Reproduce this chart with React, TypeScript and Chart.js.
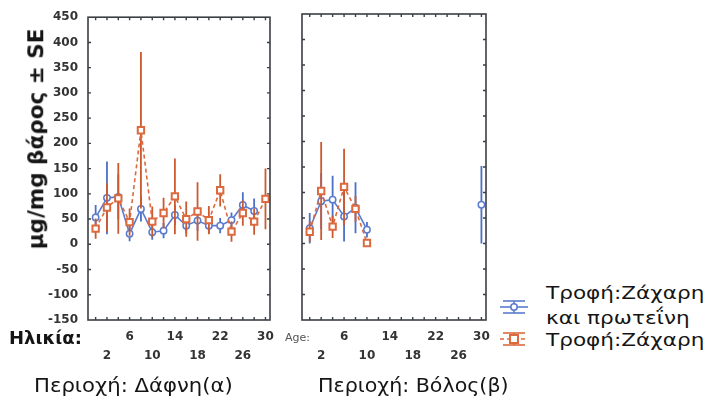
import { useEffect, useRef } from 'react';
import { Chart, registerables } from 'chart.js';
Chart.register(...registerables);

// ---------- data ----------
const ages = [0, 2, 4, 6, 8, 10, 12, 14, 16, 18, 20, 22, 24, 26, 28, 30];
const xTickValues = [2, 6, 10, 14, 18, 22, 26, 30];
const xTickLowerRow = [2, 10, 18, 26];
const yMin = -150;
const yMax = 450;
const yStep = 50;

const seriesSugarProtein = 'Τροφή:Ζάχαρη και πρωτεΐνη';
const seriesSugar = 'Τροφή:Ζάχαρη';

// Περιοχή: Δάφνη(α)
const dafniSugarProtein = [53, 92, 94, 21, 70, 24, 27, 58, 37, 47, 37, 37, 48, 78, 66, null];
const dafniSugarProteinSE = [25, 72, 45, 15, 25, 15, 15, 20, 15, 20, 15, 15, 15, 25, 25, null];
const dafniSugar = [31, 73, 91, 44, 226, 45, 62, 95, 50, 65, 48, 107, 25, 62, 45, 90];
const dafniSugarSE = [20, 48, 70, 27, 155, 30, 30, 75, 35, 58, 28, 32, 20, 25, 26, 60];

// Περιοχή: Βόλος(β)
const volosSugarProtein = [30, 83, 86, 53, 70, 27, null, null, null, null, null, null, null, null, null, 76];
const volosSugarProteinSE = [30, 55, 47, 49, 50, 15, null, null, null, null, null, null, null, null, null, 76];
const volosSugar = [23, 103, 33, 111, 68, 1, null, null, null, null, null, null, null, null, null, null];
const volosSugarSE = [20, 96, 22, 75, 25, 0, null, null, null, null, null, null, null, null, null, null];

// ---------- style ----------
const FONT = "'DejaVu Sans', 'Liberation Sans', sans-serif";
const BLUE = '#5a7ccf';
const BLUE_BAR = '#4d6fc6';
const ORANGE = '#dc6a3e';
const ORANGE_BAR = '#cc5a30';
const FRAME = '#3a3f44';
const X_MIN = -1.35;
const X_MAX = 30.8;
const H = 407;
const PLOT_TOP = 14;
const PLOT_BOTTOM = 320;

const panelPlugin = {
  id: 'panelDeco',
  beforeDatasetDraw(chart: any, args: any) {
    const ds = chart.data.datasets[args.index];
    const errs = ds.errors;
    if (!errs) return;
    const xs = chart.scales.x;
    const ys = chart.scales.y;
    const ctx = chart.ctx;
    ctx.save();
    ctx.beginPath();
    ctx.rect(chart.chartArea.left, chart.chartArea.top, chart.chartArea.width, chart.chartArea.height);
    ctx.clip();
    ctx.strokeStyle = ds.errorColor;
    ctx.lineWidth = 1.8;
    ctx.beginPath();
    ds.data.forEach((p: any, i: number) => {
      if (p.y == null || errs[i] == null) return;
      const px = xs.getPixelForValue(p.x);
      ctx.moveTo(px, ys.getPixelForValue(p.y - errs[i]));
      ctx.lineTo(px, ys.getPixelForValue(p.y + errs[i]));
    });
    ctx.stroke();
    ctx.restore();
  },
  afterDraw(chart: any) {
    const { left, right, top, bottom } = chart.chartArea;
    const xs = chart.scales.x;
    const ys = chart.scales.y;
    const ctx = chart.ctx;
    ctx.save();
    ctx.strokeStyle = FRAME;
    ctx.lineWidth = 1.6;
    ctx.strokeRect(left, top, right - left, bottom - top);
    ctx.lineWidth = 1.4;
    ctx.beginPath();
    for (let a = 0; a <= 30; a += 2) {
      const px = xs.getPixelForValue(a);
      ctx.moveTo(px, top);
      ctx.lineTo(px, top + 3);
      ctx.moveTo(px, bottom);
      ctx.lineTo(px, bottom - 3);
    }
    for (let v = yMin + yStep; v < yMax; v += yStep) {
      const py = ys.getPixelForValue(v);
      ctx.moveTo(left, py);
      ctx.lineTo(left + 3, py);
      ctx.moveTo(right, py);
      ctx.lineTo(right - 3, py);
    }
    ctx.stroke();
    ctx.restore();
  },
};

const toPoints = (vals: (number | null)[]) => ages.map((a, i) => ({ x: a, y: vals[i] }));

function makeConfig(p: any): any {
  return {
    type: 'line',
    data: {
      datasets: [
        {
          label: seriesSugar,
          data: toPoints(p.sugar),
          errors: p.sugarSE,
          errorColor: ORANGE_BAR,
          borderColor: ORANGE,
          borderWidth: 1.6,
          borderDash: [4, 3],
          pointStyle: 'rect',
          pointRadius: 4.5,
          pointBorderWidth: 2,
          pointBackgroundColor: '#ffffff',
          pointBorderColor: ORANGE,
          spanGaps: false,
        },
        {
          label: seriesSugarProtein,
          data: toPoints(p.sugarProtein),
          errors: p.sugarProteinSE,
          errorColor: BLUE_BAR,
          borderColor: BLUE,
          borderWidth: 1.6,
          pointStyle: 'circle',
          pointRadius: 3.2,
          pointBorderWidth: 1.5,
          pointBackgroundColor: '#ffffff',
          pointBorderColor: BLUE,
          spanGaps: false,
        },
      ],
    },
    options: {
      responsive: false,
      animation: false,
      layout: { padding: p.padding },
      plugins: { legend: { display: false }, tooltip: { enabled: false } },
      scales: {
        x: {
          type: 'linear',
          min: X_MIN,
          max: X_MAX,
          grid: { display: false, drawTicks: false },
          border: { display: false },
          afterBuildTicks: (axis: any) => {
            axis.ticks = xTickValues.map((v) => ({ value: v }));
          },
          afterFit: (axis: any) => {
            axis.height = H - PLOT_BOTTOM;
          },
          ticks: {
            autoSkip: false,
            maxRotation: 0,
            padding: 7,
            color: '#333',
            font: { family: FONT, size: 12, weight: 'bold', lineHeight: 1.58 },
            callback: (v: any) => (xTickLowerRow.includes(v) ? ['', String(v)] : String(v)),
          },
        },
        y: {
          min: yMin,
          max: yMax,
          grid: { display: false, drawTicks: false },
          border: { display: false },
          afterFit: (axis: any) => {
            axis.width = p.yAxisWidth;
          },
          ticks: {
            display: p.showY,
            stepSize: yStep,
            padding: 10,
            color: '#333',
            font: { family: FONT, size: 12, weight: 'bold' },
          },
        },
      },
    },
    plugins: [panelPlugin],
  };
}

function Panel(props: any) {
  const ref = useRef<HTMLCanvasElement>(null);
  useEffect(() => {
    const chart = new Chart(ref.current as HTMLCanvasElement, makeConfig(props));
    return () => chart.destroy();
  }, []);
  return (
    <canvas
      ref={ref}
      width={props.width}
      height={H}
      style={{ position: 'absolute', left: props.left, top: 0, width: props.width, height: H }}
    />
  );
}

function Txt(props: any) {
  return (
    <div
      style={{
        position: 'absolute',
        left: props.x,
        top: props.y,
        transform: `translateY(-50%) scaleX(${props.sx || 1})`,
        transformOrigin: 'left center',
        whiteSpace: 'nowrap',
        fontFamily: FONT,
        fontSize: props.size,
        fontWeight: props.bold ? 'bold' : 'normal',
        color: props.color || '#151515',
        lineHeight: 1,
      }}
    >
      {props.children}
    </div>
  );
}

function LegendSymbol(props: any) {
  const { cx, cy, color, square, dashed } = props;
  return (
    <g stroke={color} strokeWidth={1.6} fill="none">
      <line x1={cx - 11} y1={cy - 6} x2={cx + 11} y2={cy - 6} />
      <line x1={cx - 11} y1={cy + 6} x2={cx + 11} y2={cy + 6} />
      <line x1={cx} y1={cy - 6} x2={cx} y2={cy + 6} />
      <line x1={cx - 14} y1={cy} x2={cx + 14} y2={cy} strokeDasharray={dashed ? '4 3' : undefined} />
      {square ? (
        <rect x={cx - 4} y={cy - 4} width={8} height={8} fill="#fff" strokeWidth={2} />
      ) : (
        <circle cx={cx} cy={cy} r={3.2} fill="#fff" />
      )}
    </g>
  );
}

export default function App() {
  return (
    <div style={{ position: 'absolute', left: 0, top: 0, width: 713, height: H, background: '#fff', overflow: 'hidden' }}>
      <Panel
        left={0}
        width={290}
        showY={true}
        yAxisWidth={88}
        padding={{ left: 0, top: PLOT_TOP, right: 20, bottom: 0 }}
        sugar={dafniSugar}
        sugarSE={dafniSugarSE}
        sugarProtein={dafniSugarProtein}
        sugarProteinSE={dafniSugarProteinSE}
      />
      <Panel
        left={290}
        width={210}
        showY={false}
        yAxisWidth={12}
        padding={{ left: 0, top: PLOT_TOP, right: 14, bottom: 0 }}
        sugar={volosSugar}
        sugarSE={volosSugarSE}
        sugarProtein={volosSugarProtein}
        sugarProteinSE={volosSugarProteinSE}
      />
      <div
        style={{
          position: 'absolute',
          left: 36,
          top: 139,
          transform: 'translate(-50%, -50%) rotate(-90deg)',
          whiteSpace: 'nowrap',
          fontFamily: FONT,
          fontWeight: 'bold',
          fontSize: 21.5,
          color: '#151515',
          lineHeight: 1,
        }}
      >
        μg/mg βάρος ± SE
      </div>
      <Txt x={9} y={338} size={18} bold>Ηλικία:</Txt>
      <Txt x={285} y={337} size={11} color="#555">Age:</Txt>
      <Txt x={34} y={385} size={20} sx={1.06}>Περιοχή: Δάφνη(α)</Txt>
      <Txt x={318} y={385} size={20} sx={1.03}>Περιοχή: Βόλος(β)</Txt>
      <Txt x={546} y={293} size={17} sx={1.27}>Τροφή:Ζάχαρη</Txt>
      <Txt x={546} y={318} size={17} sx={1.27}>και πρωτεΐνη</Txt>
      <Txt x={546} y={340} size={17} sx={1.27}>Τροφή:Ζάχαρη</Txt>
      <svg width={713} height={H} style={{ position: 'absolute', left: 0, top: 0, pointerEvents: 'none' }}>
        <LegendSymbol cx={514} cy={307} color={BLUE} />
        <LegendSymbol cx={514} cy={339} color={ORANGE} square dashed />
      </svg>
    </div>
  );
}
